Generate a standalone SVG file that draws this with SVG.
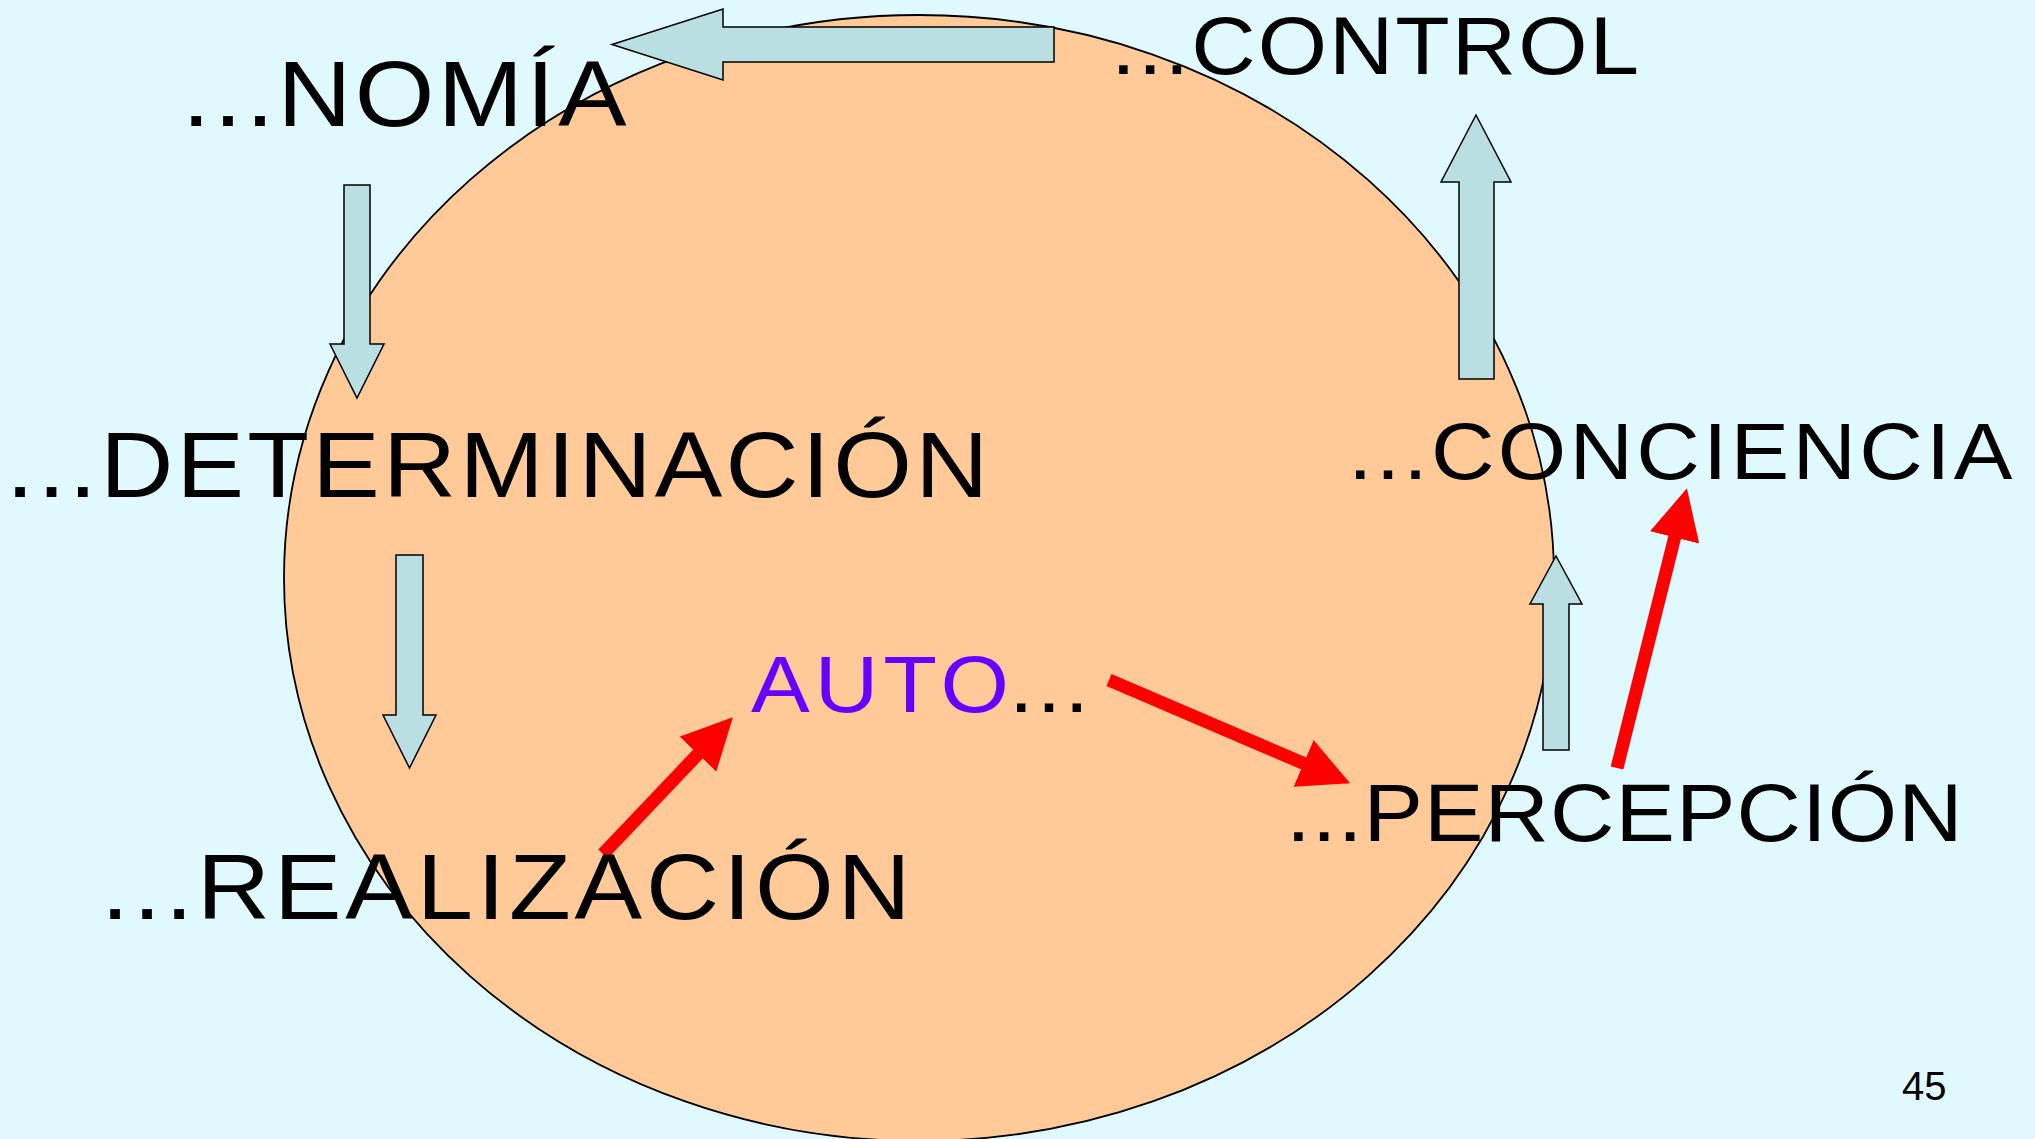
<svg xmlns="http://www.w3.org/2000/svg" width="2035" height="1139" viewBox="0 0 2035 1139">
<style>
.lbl{font-family:"Liberation Sans",Arial,sans-serif;fill:#000}
.blk{fill:#B9DFE3;stroke:#000;stroke-width:1.5;stroke-linejoin:miter}
.red{stroke:#FF0000;stroke-width:13;fill:none}
</style>
<defs>
<marker id="rh" viewBox="0 0 10 10" refX="0.3" refY="5" markerWidth="3.9" markerHeight="3.9" markerUnits="strokeWidth" orient="auto">
<path d="M0,0 L10,5 L0,10 z" fill="#FF0000"/>
</marker>
</defs>
<rect x="0" y="0" width="2035" height="1139" fill="#E0F9FF"/>
<g id="circle"><ellipse cx="919" cy="578" rx="635" ry="563" fill="#FFCA97" stroke="#000" stroke-width="1.8"/></g>
<g id="connectors">
<polygon class="blk" points="612,44.5 723,9 723,27 1054,27 1054,62 723,62 723,80"/>
<polygon class="blk" points="344,185 370,185 370,344 384,344 357,398 330,344 344,344"/>
<polygon class="blk" points="396,555 423,555 423,715 436,715 409.5,768 383,715 396,715"/>
<polygon class="blk" points="1476,115 1511,182 1494,182 1494,379 1459,379 1459,182 1441,182"/>
<polygon class="blk" points="1556,556 1582,604 1569,604 1569,750 1543,750 1543,604 1530,604"/>
<line class="red" x1="603" y1="854" x2="699" y2="753" marker-end="url(#rh)"/>
<line class="red" x1="1109" y1="680" x2="1305" y2="764" marker-end="url(#rh)"/>
<line class="red" x1="1617" y1="768" x2="1675" y2="536" marker-end="url(#rh)"/>
</g>
<g id="n-nomia"><text class="lbl" transform="translate(182,126) scale(1.1,1)" font-size="93" textLength="404" lengthAdjust="spacing">...NOMÍA</text></g>
<g id="n-control"><text class="lbl" transform="translate(1111,74) scale(1.1,1)" font-size="81" textLength="480" lengthAdjust="spacing">...CONTROL</text></g>
<g id="n-determinacion"><text class="lbl" transform="translate(6,497) scale(1.1,1)" font-size="92" textLength="893" lengthAdjust="spacing">...DETERMINACIÓN</text></g>
<g id="n-realizacion"><text class="lbl" transform="translate(101,919) scale(1.1,1)" font-size="92" textLength="736" lengthAdjust="spacing">...REALIZACIÓN</text></g>
<g id="n-conciencia"><text class="lbl" transform="translate(1348,479) scale(1.1,1)" font-size="80" textLength="604" lengthAdjust="spacing">...CONCIENCIA</text></g>
<g id="n-percepcion"><text class="lbl" transform="translate(1286,841) scale(1.1,1)" font-size="81" textLength="615" lengthAdjust="spacing">...PERCEPCIÓN</text></g>
<g id="n-auto"><text class="lbl" transform="translate(751,712) scale(1.1,1)" font-size="80" textLength="234.5" lengthAdjust="spacing" style="fill:#6600FF">AUTO</text><text class="lbl" transform="translate(1009,712) scale(1.1,1)" font-size="80" letter-spacing="3">...</text></g>
<g id="page"><text class="lbl" x="1902" y="1100" font-size="40">45</text></g>
</svg>
